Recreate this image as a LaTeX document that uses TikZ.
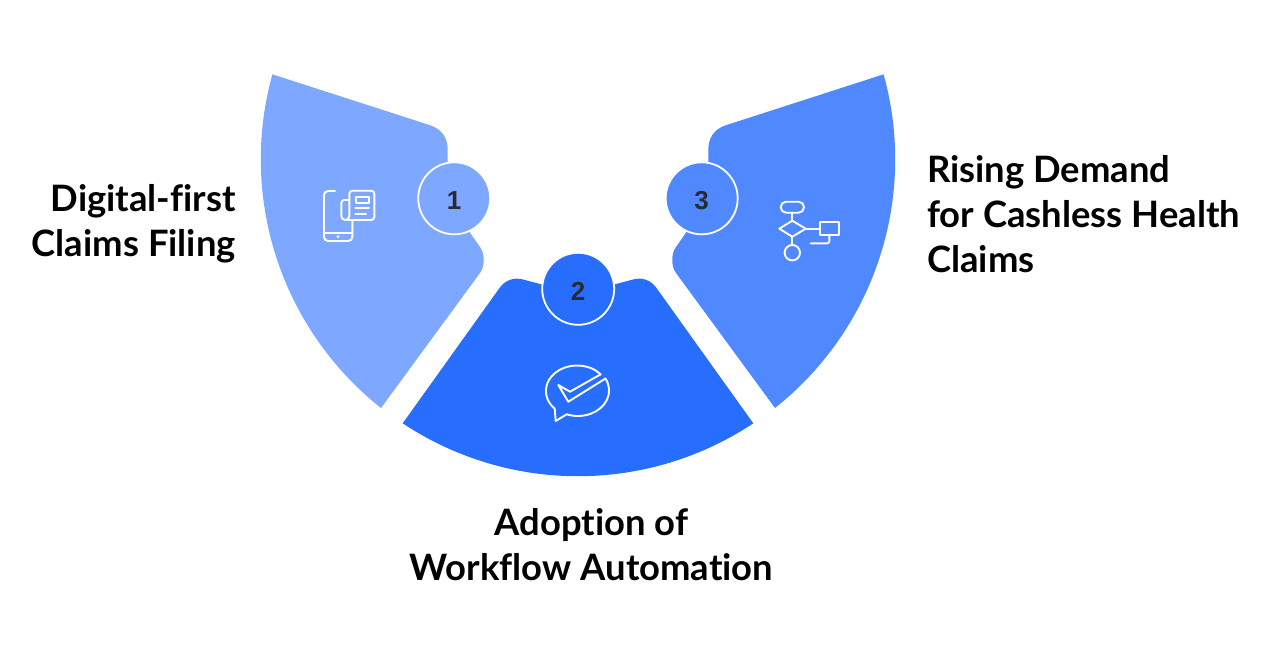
\documentclass[tikz,border=0pt]{standalone}
\usepackage{fontspec}
\setmainfont{Lato}[Ligatures=NoCommon]
\newfontfamily\numfont{Liberation Sans}
\usepackage{tikz}
\definecolor{bladeA}{HTML}{7EA8FF}
\definecolor{bladeB}{HTML}{276EFF}
\definecolor{bladeC}{HTML}{5089FF}
\definecolor{inkdark}{HTML}{2A2A33}

\begin{document}
\begin{tikzpicture}[
        x=1pt, y=1pt, yscale=-1,
        badge/.style={circle, draw=white, line width=1.8pt, minimum size=72pt, inner sep=0pt,
            font=\numfont\bfseries\fontsize{26}{26}\selectfont, text=inkdark, text height=23pt},
        caption/.style={font=\bfseries\fontsize{36.4}{45}\selectfont, text=black, inner sep=0pt},
        glyph/.style={draw=white, line width=1.9pt, line join=round, line cap=round}
        ]
        \useasboundingbox (0,0) rectangle (1262,653);

        % Left blade
        \fill[bladeA] (272.3,74.3) -- (430,125.2)
            .. controls (443,129.5) and (447.7,139) .. (447.7,150)
            -- (447.7,190) -- (470,232.7) -- (480,247)
            .. controls (485,254) and (485,266) .. (480,273)
            -- (381,408) arc[start angle=128.4, end angle=195.56, radius=317.3pt] -- cycle;
        % Bottom blade
        \fill[bladeB] (402.7,423.3) -- (499.3,288.3)
            .. controls (505,280) and (514,277) .. (523,279.5)
            -- (540,284) -- (616,284) -- (633,279.5)
            .. controls (642,277) and (651,280) .. (656.7,288.3)
            -- (753.3,423.3) arc[start angle=56.4, end angle=123.6, radius=316.8pt] -- cycle;
        % Right blade
        \fill[bladeC] (883.7,74.3) -- (726,125.2)
            .. controls (713,129.5) and (708.3,139) .. (708.3,150)
            -- (708.3,190) -- (686,232.7) -- (676,247)
            .. controls (671,254) and (671,266) .. (676,273)
            -- (775,408) arc[start angle=51.6, end angle=-15.56, radius=317.3pt] -- cycle;

        % Number badges
        \node[badge, fill=bladeA] (one) at (454.2,198.3) {1};
        \node[badge, fill=bladeB] (two) at (578.2,288.8) {2};
        \node[badge, fill=bladeC] (three) at (701.7,198.3) {3};

        % Phone and paper
        \draw[glyph] (335,191) -- (328,191) arc[start angle=-90, end angle=-180, radius=4pt]
            -- (324,237) arc[start angle=180, end angle=90, radius=4pt]
            -- (348.3,241) arc[start angle=90, end angle=0, radius=4pt] -- (352.3,220);
        \draw[glyph] (324,232.7) -- (352.3,232.7);
        \fill[white] (338,236.7) circle (1.5pt);
        \draw[glyph] (345,220) -- (371.3,220) arc[start angle=90, end angle=0, radius=3pt]
            -- (374.3,193.7) arc[start angle=0, end angle=-90, radius=3pt]
            -- (352.3,190.7) arc[start angle=-90, end angle=-180, radius=3pt]
            -- (349.3,216) arc[start angle=0, end angle=90, radius=4pt]
            arc[start angle=90, end angle=180, radius=4pt]
            -- (341.3,203) arc[start angle=180, end angle=270, radius=3pt] -- (349.3,200);
        \draw[glyph] (356,196.7) rectangle (369,203.3);
        \draw[glyph] (355.3,208.3) -- (369,208.3);
        \draw[glyph] (355.3,214) -- (366,214);

        % Speech bubble with tick
        \draw[glyph] (600.7,374.3) arc[start angle=-41, end angle=-224, x radius=31.2pt, y radius=25.5pt]
            -- (555.7,421) -- (566.7,414.3)
            arc[start angle=-249, end angle=-388, x radius=31.2pt, y radius=25.5pt]
            -- (568.3,401.7) -- (558.3,385) -- (570,391.7) -- cycle;

        % Flow chart
        \draw[glyph, rounded corners=5.4pt] (780.7,201.7) rectangle (804,212.7);
        \draw[glyph] (792.3,212.7) -- (792.3,220.7);
        \draw[glyph] (792.3,220.7) -- (805.7,228.7) -- (792.3,236.7) -- (779.3,228.7) -- cycle;
        \draw[glyph] (805.7,228.7) -- (820,228.7);
        \draw[glyph] (820,221.7) rectangle (839,235);
        \draw[glyph, rounded corners=2pt] (829.3,235) -- (829.3,243.3) -- (810.7,243.3);
        \draw[glyph] (792.3,236.7) -- (792.3,245);
        \draw[glyph] (792.3,252.7) circle (7.7pt);

        % Captions
        \node[caption, align=right, anchor=east] (left label) at (236,223.3) {Digital-first\\Claims Filing};
        \node[caption, align=center] (bottom label) at (591.5,544.2) {Adoption of\\Workflow Automation};
        \node[caption, align=left, anchor=west] (right label) at (927,214.2) {Rising Demand\\for Cashless Health\\Claims};
    \end{tikzpicture}
\end{document}
